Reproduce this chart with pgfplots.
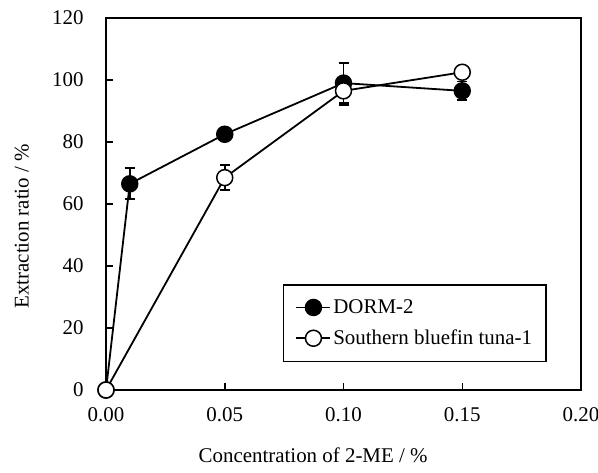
\documentclass[border=0pt]{standalone}
\usepackage{fontspec}
\setmainfont{Liberation Serif}
\usepackage{pgfplots}
\pgfplotsset{compat=1.18}
\begin{document}
\begin{tikzpicture}[font=\fontsize{21}{25}\selectfont]
\path[use as bounding box] (0,0) rectangle (598bp,473bp);
\begin{axis}[
  at={(106bp,83bp)}, anchor=south west,
  scale only axis, width=475bp, height=372bp,
  xmin=0, xmax=0.2, ymin=0, ymax=120,
  xtick={0,0.05,0.1,0.15,0.2},
  ytick={0,20,40,60,80,100,120},
  xticklabel style={yshift=-14bp, /pgf/number format/fixed, /pgf/number format/fixed zerofill, /pgf/number format/precision=2, /pgf/number format/assume math mode=true},
  yticklabel style={/pgf/number format/assume math mode=true, xshift=-19bp},
  tick align=inside, xtick pos=bottom, ytick pos=left,
  major tick length=7bp,
  tick style={line width=1.5bp, black},
  axis line style={line width=1.5bp},
  xlabel={Concentration of 2-ME / \%},
  ylabel={Extraction ratio / \%},
  xlabel style={at={(axis description cs:0.436,-0.175)}, anchor=center},
  ylabel style={at={(axis description cs:-0.177,0.44)}, anchor=center},
  legend style={at={(0.928,0.075)}, anchor=south east, draw=black, line width=1.5bp,
    font=\fontsize{21}{25}\selectfont, row sep=11bp, inner xsep=12bp, inner ysep=13bp},
  legend cell align=left,
  legend image code/.code={\draw[mark repeat=2, mark phase=2] plot coordinates {(0cm,0cm) (0.6cm,0cm) (1.2cm,0cm)};},
  every axis plot/.append style={line width=1.8bp, black},
  error bars/error bar style={line width=1.8bp},
  error bars/error mark options={rotate=90, mark size=5bp, line width=1.8bp},
]
\addplot[mark=*, mark size=8bp, mark options={fill=black, line width=1.5bp},
  error bars/.cd, y dir=both, y explicit]
  coordinates {(0,0) +- (0,0) (0.01,66.5) +- (0,5) (0.05,82.5) +- (0,1) (0.10,99) +- (0,6.5) (0.15,96.5) +- (0,3)};
\addlegendentry{DORM-2}
\addplot[mark=*, mark size=8bp, mark options={fill=white, line width=1.5bp},
  error bars/.cd, y dir=both, y explicit]
  coordinates {(0,0) +- (0,0) (0.05,68.5) +- (0,4) (0.10,96.5) +- (0,4.5) (0.15,102.5) +- (0,1)};
\addlegendentry{Southern bluefin tuna-1}
\end{axis}
\end{tikzpicture}
\end{document}
